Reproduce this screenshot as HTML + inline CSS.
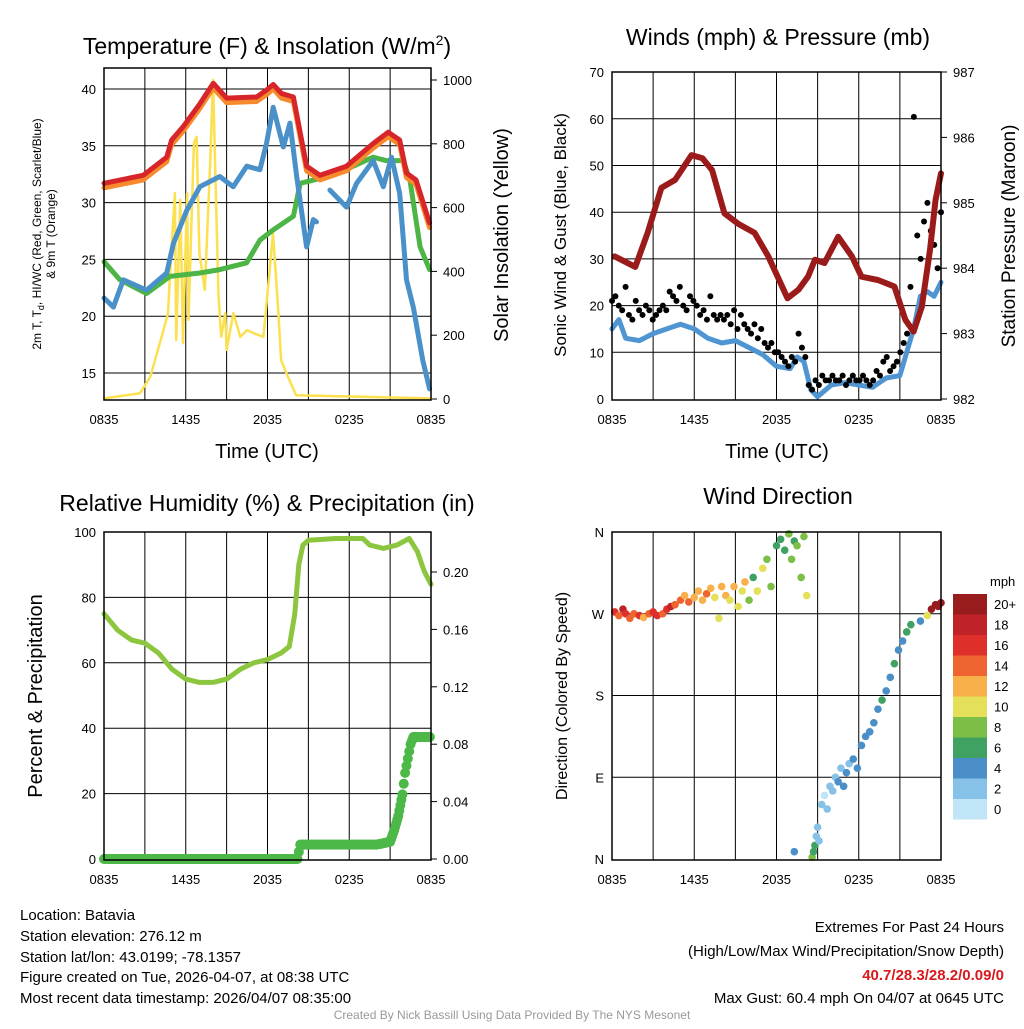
<!DOCTYPE html>
<html><head><meta charset="utf-8"><style>
body{margin:0;background:#fff;width:1024px;height:1024px;overflow:hidden}
svg text{font-family:"Liberation Sans",Arial,sans-serif;fill:#000}
</style></head><body>
<svg id="s" width="1024" height="1024" viewBox="0 0 1024 1024" xmlns="http://www.w3.org/2000/svg">
<text x="267" y="54" font-size="23" text-anchor="middle">Temperature (F) &amp; Insolation (W/m<tspan font-size="14" dy="-9">2</tspan><tspan dy="9">)</tspan></text>
<text x="778" y="45" font-size="23" text-anchor="middle">Winds (mph) &amp; Pressure (mb)</text>
<text x="267" y="511" font-size="23" text-anchor="middle">Relative Humidity (%) &amp; Precipitation (in)</text>
<text x="778" y="504" font-size="23" text-anchor="middle">Wind Direction</text>
<text x="267" y="458" font-size="20" text-anchor="middle">Time (UTC)</text>
<text x="777" y="458" font-size="20" text-anchor="middle">Time (UTC)</text>
<text transform="translate(41,234) rotate(-90)" font-size="12" text-anchor="middle">2m T, T<tspan font-size="9" dy="3">d</tspan><tspan dy="-3">, HI/WC (Red, Green, Scarlet/Blue)</tspan></text>
<text transform="translate(55,234) rotate(-90)" font-size="12" text-anchor="middle">&amp; 9m T (Orange)</text>
<text transform="translate(508,235) rotate(-90)" font-size="20" text-anchor="middle">Solar Insolation (Yellow)</text>
<text transform="translate(566,235) rotate(-90)" font-size="17" text-anchor="middle">Sonic Wind &amp; Gust (Blue, Black)</text>
<text transform="translate(1015,236) rotate(-90)" font-size="19" text-anchor="middle">Station Pressure (Maroon)</text>
<text transform="translate(42,696) rotate(-90)" font-size="20" text-anchor="middle">Percent &amp; Precipitation</text>
<text transform="translate(567,696) rotate(-90)" font-size="16" text-anchor="middle">Direction (Colored By Speed)</text>
<g font-size="15">
<text x="20" y="920">Location: Batavia</text>
<text x="20" y="941">Station elevation: 276.12 m</text>
<text x="20" y="962">Station lat/lon: 43.0199; -78.1357</text>
<text x="20" y="982">Figure created on Tue, 2026-04-07, at 08:38 UTC</text>
<text x="20" y="1003">Most recent data timestamp: 2026/04/07 08:35:00</text>
</g>
<g font-size="15" text-anchor="end">
<text x="1004" y="932">Extremes For Past 24 Hours</text>
<text x="1004" y="956">(High/Low/Max Wind/Precipitation/Snow Depth)</text>
<text x="1004" y="980" font-weight="bold" style="fill:#d7191c">40.7/28.3/28.2/0.09/0</text>
<text x="1004" y="1003">Max Gust: 60.4 mph On 04/07 at 0645 UTC</text>
</g>
<text x="512" y="1019" font-size="12" text-anchor="middle" style="fill:#999">Created By Nick Bassill Using Data Provided By The NYS Mesonet</text>
</svg>
<script>
// ---- data ----
const xTickLabels=["0835","1435","2035","0235","0835"];
const tempT=[0,2.88,4.6,4.96,5.82,7.04,8.02,9.0,11.2,11.93,12.42,13.03,13.9,14.87,15.85,17.8,19.76,20.86,21.7,22.2,22.9,23.9];
const tempV=[31.7,32.4,34.0,35.5,36.7,38.7,40.5,39.2,39.3,39.9,40.4,39.6,39.3,33.2,32.4,33.2,35.2,36.2,35.5,32.6,32.0,28.2];
const dewT=[0,1.17,3.13,4.84,7.04,8.5,10.47,11.44,12.42,13.9,14.4,16.8,19.76,20.7,21.96,22.45,23.2,23.9];
const dewV=[24.8,23.2,22.0,23.5,23.8,24.1,24.7,26.7,27.6,28.8,31.7,32.4,34.0,33.7,33.7,32.0,26.1,24.1];
const wcT=[0,0.69,1.42,3.13,4.6,5.09,6.07,7.04,8.5,9.48,10.47,11.44,11.93,12.42,13.16,13.65,14.14,14.87,15.36,15.6,null,16.58,17.8,18.54,19.76,20.5,21.1,21.7,22.2,22.7,23.4,23.9];
const wcV=[21.6,20.8,23.2,22.3,23.8,26.4,29.3,31.4,32.3,31.4,33.2,32.9,35.2,38.4,34.9,37.0,32.3,26.1,28.5,28.3,null,31.1,29.6,31.7,33.7,31.4,34.0,30.8,23.2,20.8,16.1,13.6];
const solT=[0,2.64,3.4,4.3,4.7,4.9,5.2,5.3,5.6,5.8,6.1,6.2,6.6,6.8,7.0,7.4,7.8,8.0,8.4,8.6,8.9,9.0,9.5,10.0,10.5,11.0,11.7,12.0,12.4,12.8,13.0,13.5,14.1,24];
const solV=[2,18,70,206,269,436,645,185,624,175,645,248,802,822,457,342,749,1000,331,195,269,154,269,195,216,206,195,331,519,269,122,70,12,2];
const presT=[0.2,1.7,2.6,3.6,4.6,5.8,6.6,7.3,8.2,9.2,10.4,11.4,12.8,13.6,14.3,14.8,15.5,16.5,17.5,18.2,19.4,20.6,21.4,22,22.6,23.2,23.6,24];
const presV=[984.18,984.02,984.54,985.23,985.35,985.73,985.68,985.5,984.84,984.68,984.54,984.18,983.54,983.67,983.87,984.13,984.08,984.48,984.18,983.87,983.82,983.72,983.21,983.03,983.41,984.28,985.04,985.45];
const windT=[0,0.5,1,2,3,4,5,6,7,8,9,10,11,12,13,13.5,14,14.5,15,16,17,18,19,20,21,21.5,22,22.5,23,23.5,24];
const windV=[15,17,13,12.5,14,15,16,15,13,12,12.5,11,9.5,7,6.5,9,8,2,0.5,3,3.5,3,2.5,4.5,5,10,15,22,23,22,25];
const gustV=[21,22,20,19,24,18,17,21,19, 18,20,19,17,18,19,20,19, 23,22,21,24,20,19,22,21, 20,18,19,17,22,18,17,18, 17,18,16,19,15,18,16,15, 14,16,13,15,12,11,12,10, 10,9,8,7,9,8,14,11, 9,3,2,4,3,5,4,4, 5,4,4,5,3,4,5,4, 4,5,4,3,4,6,5,8, 9,6,7,8,10,12,14,24, 60.4,35,30,38,42,36,33,28,40];
const rhT=[0,1,2,3,4,5,6,7,8,9,10,11,12,13,13.6,14,14.3,14.6,15,17,19,19.5,20.5,21.5,22.4,23,23.5,24];
const rhV=[75,70,67,66,63,58,55,54,54,55,58,60,61,63,65,75,90,96,97.5,98,98,96,95,96,98,94,88,84];
const prT=[0,2,4,6,8,10,12,14.2,14.4,16,18,20,21,21.3,21.6,21.9,22.1,22.3,22.5,22.7,23,23.5,24];
const prV=[0,0,0,0,0,0,0,0,0.01,0.01,0.01,0.01,0.012,0.02,0.03,0.045,0.06,0.07,0.08,0.085,0.085,0.085,0.085];
const dirT=[0.2,0.5,0.8,1,1.3,1.6,2,2.3,2.7,3,3.3,3.7,4,4.3,4.6,5,5.3,5.6,6,6.3,6.6,6.9,7.2,7.5,7.8,8,8.3,8.6,8.9,9.2,9.5,9.7,10,10.3,10.6,11,11.3,11.6,12,12.3,12.6,12.9,13.1,13.3,13.5,13.8,14,14.2,13.3,14.6,14.7,14.8,14.9,15,15.1,15.3,15.5,15.7,15.9,16.1,16.3,16.5,16.7,16.9,17.1,17.3,17.6,17.9,18.2,18.5,18.8,19.1,19.4,19.7,20,20.3,20.6,20.9,21.2,21.5,21.8,22.5,23,23.3,23.6,23.8,24];
const dirDeg=[272,268,275,270,265,270,268,266,270,272,268,270,275,278,280,285,290,283,288,295,285,292,298,288,265,300,290,285,300,278,295,305,285,310,295,320,330,300,345,352,340,358,330,350,345,310,355,290,8,2,8,15,25,35,20,60,70,55,80,75,90,85,100,80,95,105,110,100,125,135,140,150,165,175,185,200,215,230,240,250,258,262,268,275,280,278,282];
const dirSpd=[16,14,18,15,13,14,16,12,14,16,15,13,16,18,14,13,12,14,12,11,12,13,12,10,9,12,11,10,12,9,9,11,8,6,10,9,7,8,6,5,6,7,8,6,7,8,7,9,3,8,6,6,2,1,2,1,0,1,2,1,2,3,2,4,3,2,4,3,4,3,4,4,4,5,4,4,5,3,4,5,6,4,9,20,20,19,20];
const speedLabels=["0","2","4","6","8","10","12","14","16","18","20+"];
const speedColors=["#bfe5f7","#86c2e8","#4a8fc8","#3fa162","#7cbf47","#e5e05a","#f7b04a","#ee6430","#de2f2a","#bf2328","#981b1e"];
// ---- helpers ----
const NS="http://www.w3.org/2000/svg";
const svg=document.getElementById('s');
function mk(tag,attrs,parent){const e=document.createElementNS(NS,tag);for(const k in attrs)e.setAttribute(k,attrs[k]);(parent||svg).appendChild(e);return e;}
function panel(x0,x1,y0,y1,name){
  const g=mk('g',{});
  
  
  return {x0,x1,y0,y1,g,sx:t=>x0+(x1-x0)*t/24};
}
function frame(P,ticks,labelsL,fy,labelsR,fyR){
  for(let i=0;i<=8;i++){const x=P.sx(i*3);const l=mk('line',{x1:x,x2:x,y1:P.y0,y2:P.y1,stroke:'#000','stroke-width':1},P.g);
    
    }
  ticks.forEach((v,i)=>{const y=fy(v);
    if(y>P.y0+1&&y<P.y1-1){const l=mk('line',{x1:P.x0,x2:P.x1,y1:y,y2:y,stroke:'#000','stroke-width':1},P.g);
      
      }
    const t=mk('text',{x:P.x0-8,y:y+5,'font-size':13,'text-anchor':'end'},P.g);t.textContent=labelsL[i];
    
    
  });
  if(labelsR){labelsR.forEach((lab)=>{const y=fyR(lab[0]);
    mk('line',{x1:P.x1,x2:P.x1+6,y1:y,y2:y,stroke:'#000'},P.g);
    const t=mk('text',{x:P.x1+12,y:y+5,'font-size':13},P.g);t.textContent=lab[1];
    
    });}
  xTickLabels.forEach((s,i)=>{const t=mk('text',{x:P.sx(i*6),y:P.y1+24,'font-size':13,'text-anchor':'middle'},P.g);t.textContent=s;
    
    });
}
function border(P){const r=mk('rect',{x:P.x0,y:P.y0,width:P.x1-P.x0,height:P.y1-P.y0,fill:'none',stroke:'#000','stroke-width':1.5},P.g);
  
  }
function line(P,T,V,fy,color,w,name){
  let d='',pen=false;
  T.forEach((t,i)=>{if(t===null||V[i]===null){pen=false;return;}d+=(pen?'L':'M')+P.sx(t).toFixed(1)+','+fy(V[i]).toFixed(1);pen=true;});
  const p=mk('path',{d,fill:'none',stroke:color,'stroke-width':w,'stroke-linejoin':'round','stroke-linecap':'round'},P.g);
  
  
}
// ---- panel 1 ----
const P1=panel(104,431,68,400,'temperature-panel');
const fT=v=>373-(v-15)*11.36, fS=v=>399-v*0.319;
frame(P1,[15,20,25,30,35,40],["15","20","25","30","35","40"],fT,[[0,"0"],[200,"200"],[400,"400"],[600,"600"],[800,"800"],[1000,"1000"]],fS);
line(P1,solT,solV,fS,'#fbe04f',2.5,'insolation-line');
line(P1,dewT,dewV,fT,'#4cb545',5,'dewpoint-line');
line(P1,wcT,wcV,fT,'#4a90c9',5,'windchill-line');
line(P1,tempT,tempV.map(v=>v-0.4),fT,'#f68a2c',5,'temp-9m-line');
line(P1,tempT,tempV,fT,'#d7252a',5,'temp-2m-line');
border(P1);
// ---- panel 2 ----
const P2=panel(612,941,72,400,'wind-panel');
const fW=v=>399-v*4.67, fP=v=>399-(v-982)*65.4;
frame(P2,[0,10,20,30,40,50,60,70],["0","10","20","30","40","50","60","70"],fW,[[982,"982"],[983,"983"],[984,"984"],[985,"985"],[986,"986"],[987,"987"]],fP);
line(P2,windT,windV,fW,'#4f95d2',5,'wind-speed-line');
gustV.forEach((v,i)=>{const c=mk('circle',{cx:P2.sx(i*24/(gustV.length-1)),cy:fW(v),r:3,fill:'#000'},P2.g);
  
  });
line(P2,presT,presV,fP,'#9b1a1a',6,'pressure-line');
border(P2);
// ---- panel 3 ----
const P3=panel(104,431,532,860,'humidity-panel');
const fR=v=>859-v*3.27, fPr=v=>859-v*1435;
frame(P3,[0,20,40,60,80,100],["0","20","40","60","80","100"],fR,[[0,"0.00"],[0.04,"0.04"],[0.08,"0.08"],[0.12,"0.12"],[0.16,"0.16"],[0.2,"0.20"]],fPr);
line(P3,rhT,rhV,fR,'#8cc63f',5,'humidity-line');
for(let k=0;k<prT.length-1;k++){const n=Math.max(2,Math.round((prT[k+1]-prT[k])*12));
  for(let j=0;j<n;j++){const t=prT[k]+(prT[k+1]-prT[k])*j/n,v=prV[k]+(prV[k+1]-prV[k])*j/n;
    const c=mk('circle',{cx:P3.sx(t),cy:fPr(v),r:5,fill:'#4cb848'},P3.g);
    
    }}
border(P3);
// ---- panel 4 ----
const P4=panel(612,941,532,860,'direction-panel');
const fD=v=>859-v*0.9083;
frame(P4,[0,90,180,270,360],["N","E","S","W","N"],fD,null,null);
dirT.forEach((t,i)=>{const ci=Math.min(10,Math.round(dirSpd[i]/2));
  const c=mk('circle',{cx:P4.sx(t),cy:fD(dirDeg[i]),r:3.8,fill:speedColors[ci]},P4.g);
  
  });
border(P4);
// colorbar
const cb=mk('g',{});


const cbt=mk('text',{x:990,y:586,'font-size':13},cb);cbt.textContent='mph';
speedColors.forEach((c,i)=>{const y=799-i*20.5;
  const r=mk('rect',{x:953,y:y,width:34,height:20.5,fill:c},cb);
  
  
  const t=mk('text',{x:994,y:y+15,'font-size':13},cb);t.textContent=speedLabels[i];
  
  });
</script>
</body></html>
